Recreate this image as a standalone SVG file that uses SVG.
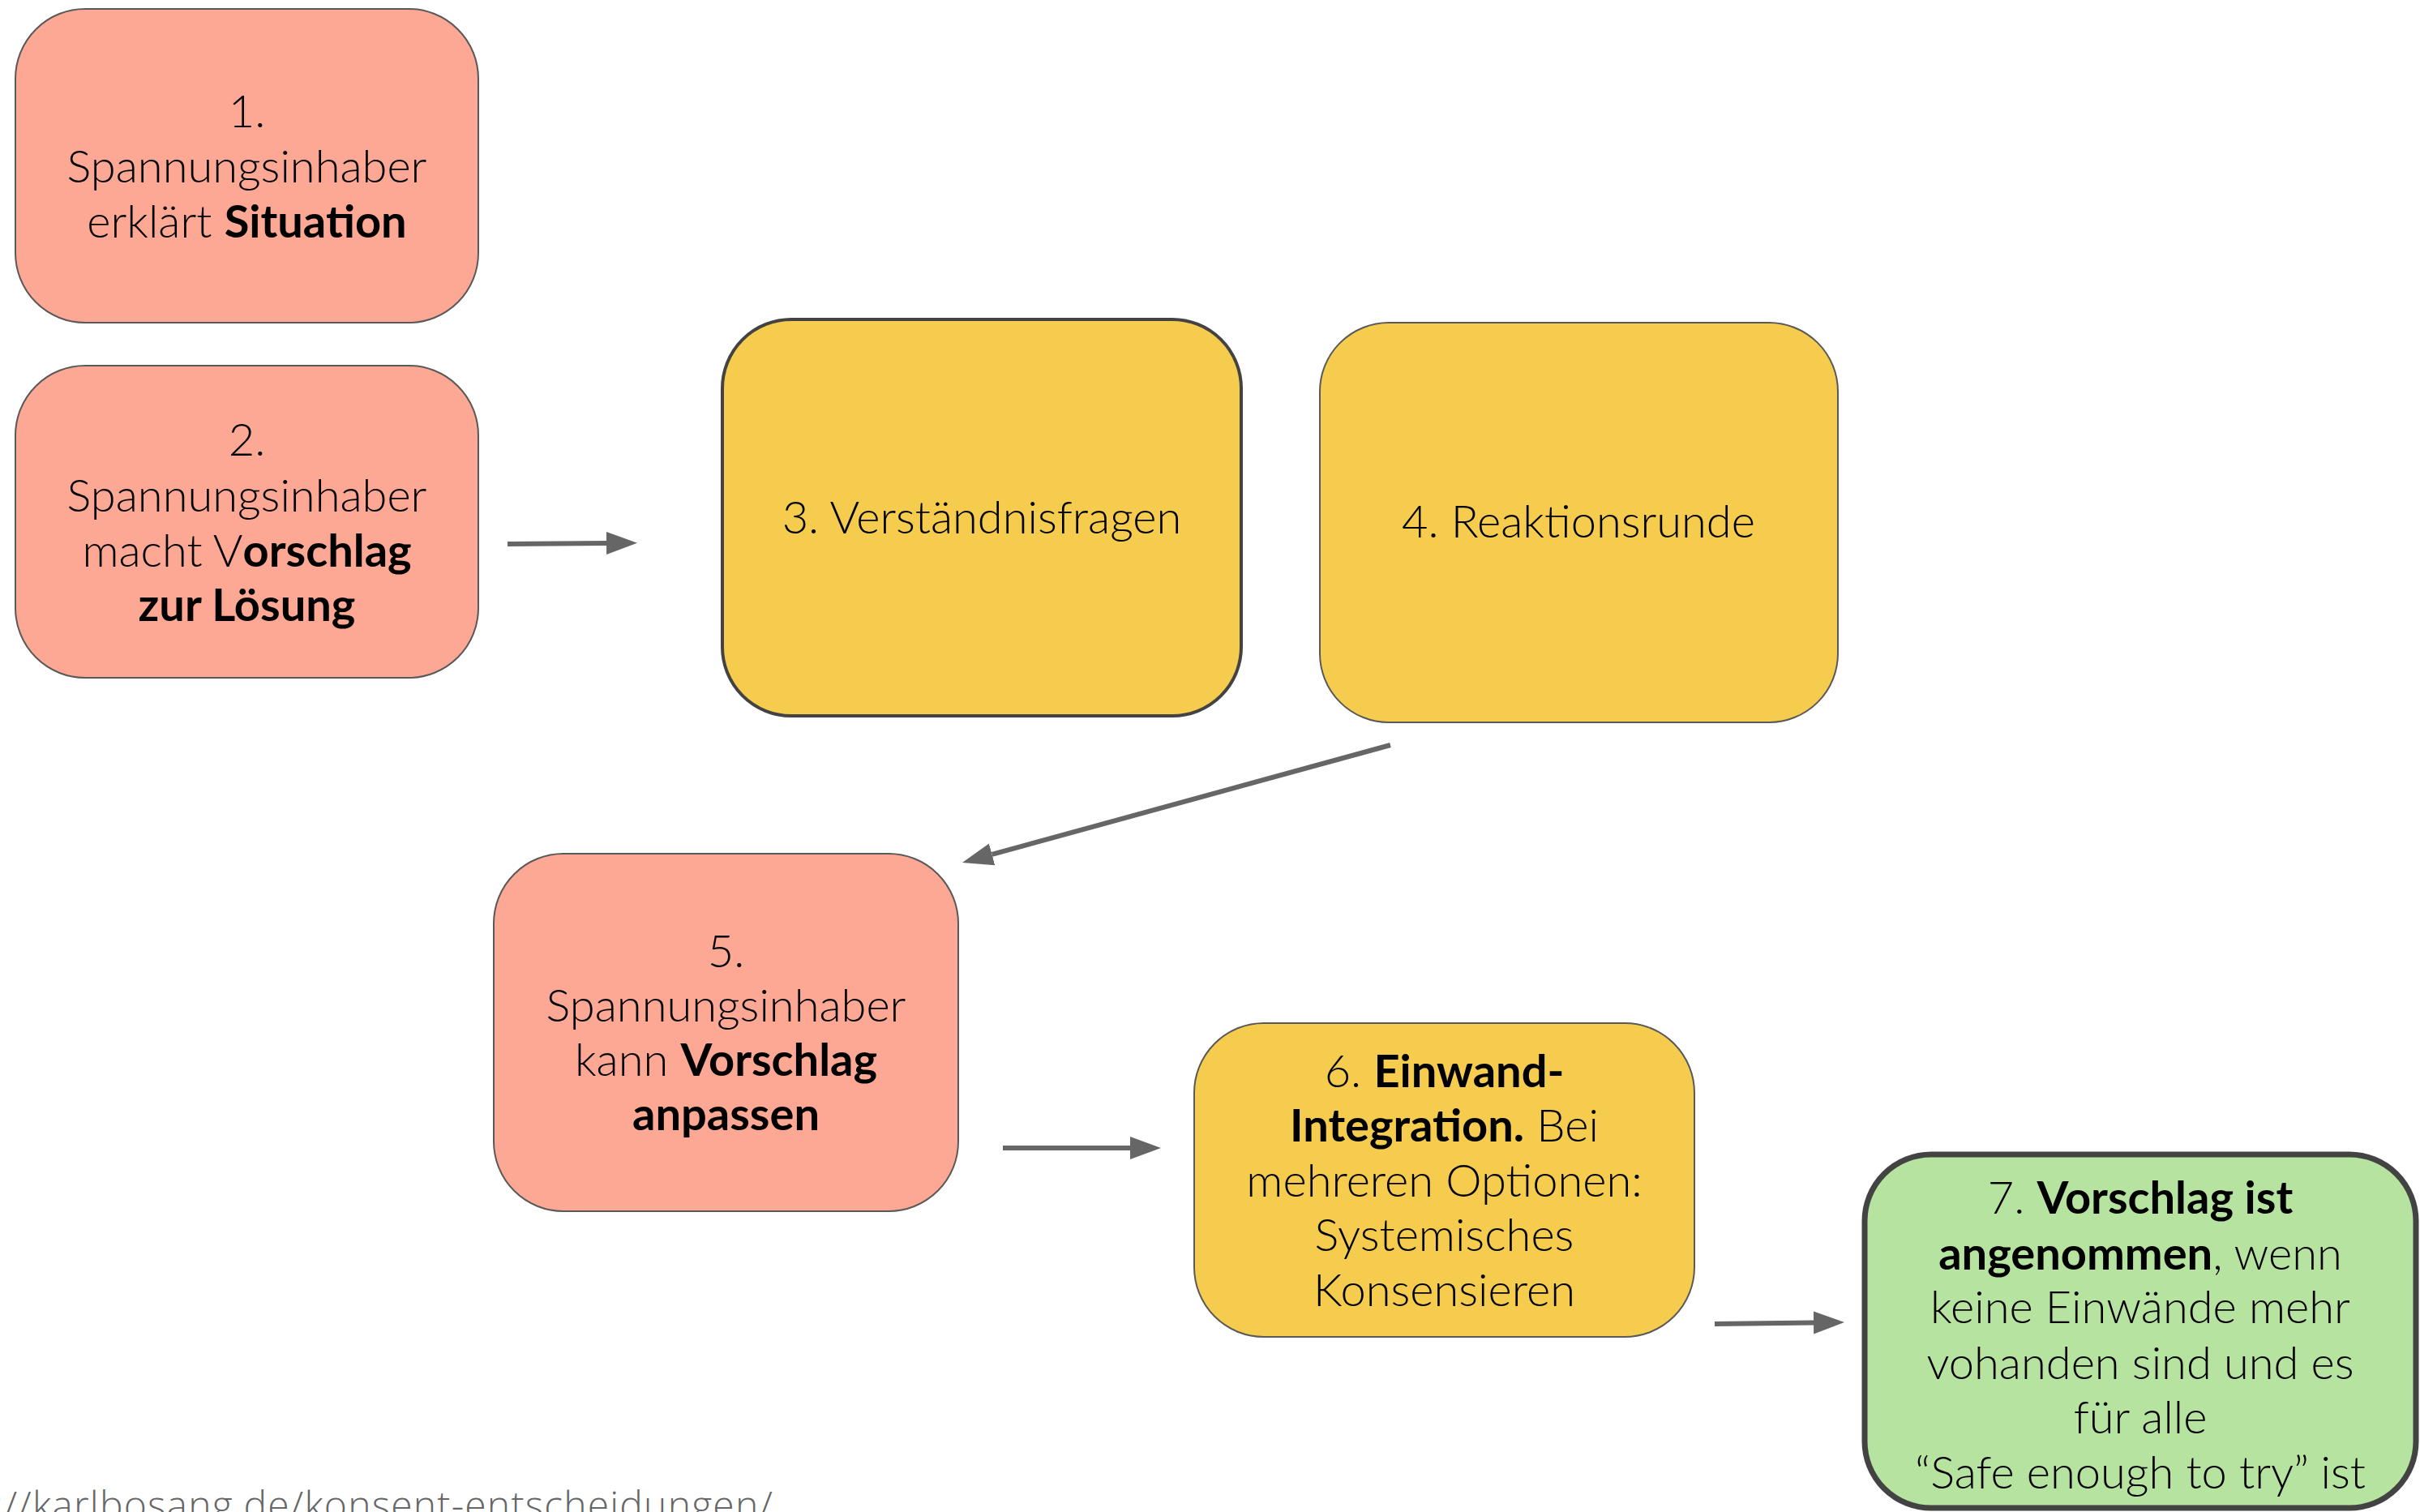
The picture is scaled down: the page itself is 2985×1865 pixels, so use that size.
<svg xmlns="http://www.w3.org/2000/svg" width="2985" height="1865" viewBox="0 0 2985 1865">
<defs>
<style>
.red{fill:#FCA894;stroke:#595959;stroke-width:2}
.yel{fill:#F6CC4F;stroke:#595959;stroke-width:2}
.yel3{fill:#F6CC4F;stroke:#434343;stroke-width:4}
.grn{fill:#B7E3A1;stroke:#434343;stroke-width:7}
text{font-family:Lato,"Liberation Sans",sans-serif;font-size:56px;fill:#000;text-anchor:middle;font-weight:300}
.b{font-weight:700}
.conn{stroke:#666666;stroke-width:6;fill:none;marker-end:url(#ah)}
.foot{font-family:"Open Sans","Noto Sans",sans-serif;font-weight:300;font-size:48px;letter-spacing:1.2px;fill:#666666;text-anchor:end}
</style>
<marker id="ah" markerUnits="userSpaceOnUse" markerWidth="40" markerHeight="30" refX="0" refY="14" orient="auto">
<path d="M0,0 L38,14 L0,28 z" fill="#666666"/>
</marker>
</defs>
<rect width="2985" height="1865" fill="#ffffff"/>
<g id="connectors">
<line class="conn" x1="626" y1="671" x2="748" y2="670"/>
<line class="conn" x1="1715" y1="919" x2="1223.6" y2="1053.9"/>
<line class="conn" x1="1237" y1="1416" x2="1394" y2="1416"/>
<line class="conn" x1="2115" y1="1633" x2="2237" y2="1631.5"/>
</g>
<g id="node1">
<rect class="red" x="19" y="11" width="571" height="387" rx="86"/>
<text x="304.5" y="157">1.</text>
<text x="304.5" y="225">Spannungsinhaber</text>
<text x="304.5" y="293">erklärt <tspan class="b">Situation</tspan></text>
</g>
<g id="node2">
<rect class="red" x="19" y="451" width="571" height="385" rx="86"/>
<text x="304.5" y="562">2.</text>
<text x="304.5" y="631">Spannungsinhaber</text>
<text x="304.5" y="699">macht V<tspan class="b">orschlag</tspan></text>
<text x="304.5" y="766" class="b">zur Lösung</text>
</g>
<g id="node3">
<rect class="yel3" x="891" y="394" width="640" height="489" rx="85"/>
<text x="1211" y="658">3. Verständnisfragen</text>
</g>
<g id="node4">
<rect class="yel" x="1628" y="398" width="639" height="493" rx="85"/>
<text x="1947" y="663">4. Reaktionsrunde</text>
</g>
<g id="node5">
<rect class="red" x="609" y="1053" width="573" height="441" rx="86"/>
<text x="895.5" y="1193">5.</text>
<text x="895.5" y="1260">Spannungsinhaber</text>
<text x="895.5" y="1327">kann <tspan class="b">Vorschlag</tspan></text>
<text x="895.5" y="1394" class="b">anpassen</text>
</g>
<g id="node6">
<rect class="yel" x="1473" y="1262" width="617" height="387" rx="86"/>
<text x="1781.5" y="1341">6. <tspan class="b">Einwand-</tspan></text>
<text x="1781.5" y="1408"><tspan class="b">Integration.</tspan> Bei</text>
<text x="1781.5" y="1476">mehreren Optionen:</text>
<text x="1781.5" y="1543">Systemisches</text>
<text x="1781.5" y="1611">Konsensieren</text>
</g>
<g id="node7">
<rect class="grn" x="2300" y="1424" width="680" height="436" rx="82"/>
<text x="2640" y="1497">7. <tspan class="b">Vorschlag ist</tspan></text>
<text x="2640" y="1566"><tspan class="b">angenommen</tspan>, wenn</text>
<text x="2640" y="1632">keine Einwände mehr</text>
<text x="2640" y="1701">vohanden sind und es</text>
<text x="2640" y="1768">für alle</text>
<text x="2640" y="1836">“Safe enough to try” ist</text>
</g>
<text class="foot" x="954" y="1874">://karlbosang.de/konsent-entscheidungen/</text>
</svg>
